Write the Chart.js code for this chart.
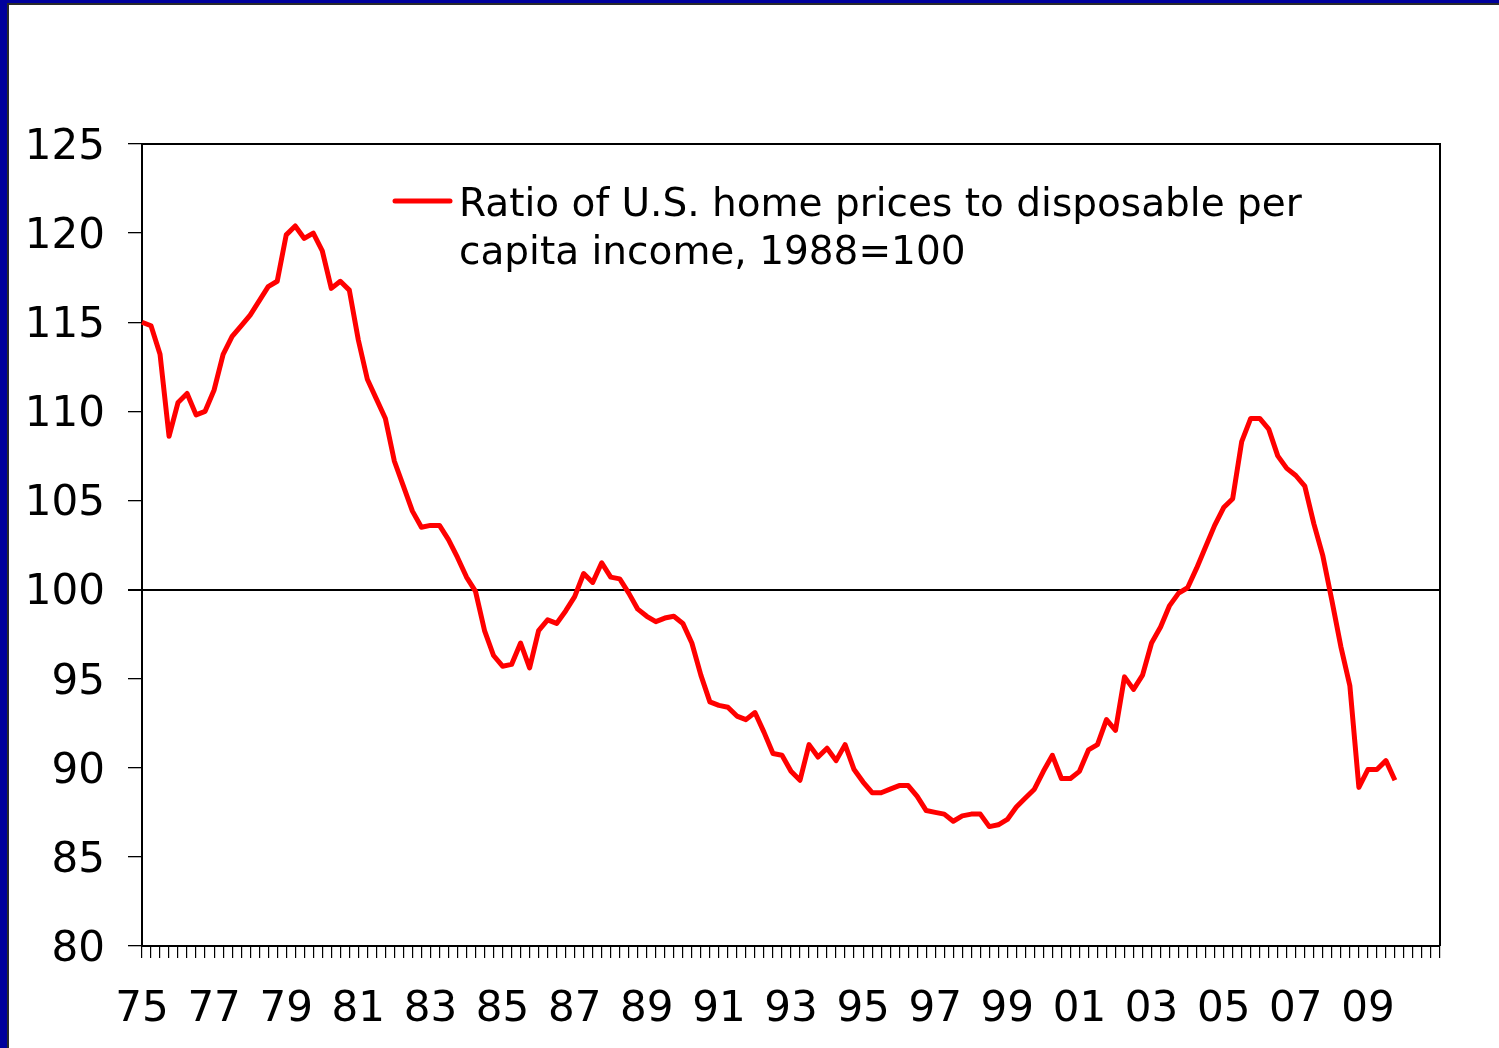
<!DOCTYPE html>
<html>
<head>
<meta charset="utf-8">
<title>Ratio of U.S. home prices to disposable per capita income</title>
<script src="https://cdn.jsdelivr.net/npm/chart.js@4.4.0/dist/chart.umd.min.js"></script>
<style>
    html, body { margin: 0; padding: 0; background: #ffffff; overflow: hidden; }
    #marco {
        position: absolute; left: 0; top: 0; width: 1499px; height: 1048px;
        box-sizing: border-box;
        border-left: 7px solid #00009c;
        border-top: 3px solid #00009c;
        pointer-events: none; z-index: 2;
    }
    #marco-interior {
        position: absolute; left: 0; top: 0; right: 0; bottom: 0;
        border-left: 2px solid #2a2a2a;
        border-top: 2px solid #2a2a2a;
    }
    #grafica { position: absolute; left: 0; top: 0; }
</style>
</head>
<body>
<div id="marco"><div id="marco-interior"></div></div>
<canvas id="grafica" width="1499" height="1048"></canvas>
<script>
// Serie trimestral 1975T1 - 2009T4 (ratio precio vivienda / ingreso disponible per capita, 1988=100)
const ratio1975_79 = [
    115.0, 114.8, 113.2, 108.6, 110.5, 111.0, 109.8, 110.0, 111.2, 113.2,
    114.2, 114.8, 115.4, 116.2, 117.0, 117.3, 119.9, 120.4, 119.7, 120.0
];
const ratio1980s = [
    119.0, 116.9, 117.3, 116.8, 114.0, 111.8, 110.7, 109.6, 107.2, 105.8,
    104.4, 103.5, 103.6, 103.6, 102.8, 101.8, 100.7, 99.9, 97.7, 96.3,
    95.7, 95.8, 97.0, 95.6, 97.7, 98.3, 98.1, 98.8, 99.6, 100.9,
    100.4, 101.5, 100.7, 100.6, 99.8, 98.9, 98.5, 98.2, 98.4, 98.5
];
const ratio1990s = [
    98.1, 97.0, 95.2, 93.7, 93.5, 93.4, 92.9, 92.7, 93.1, 92.0,
    90.8, 90.7, 89.8, 89.3, 91.3, 90.6, 91.1, 90.4, 91.3, 89.9,
    89.2, 88.6, 88.6, 88.8, 89.0, 89.0, 88.4, 87.6, 87.5, 87.4,
    87.0, 87.3, 87.4, 87.4, 86.7, 86.8, 87.1, 87.8, 88.3, 88.8
];
const ratio2000s = [
    89.8, 90.7, 89.4, 89.4, 89.8, 91.0, 91.3, 92.7, 92.1, 95.1,
    94.4, 95.2, 97.0, 97.9, 99.1, 99.8, 100.1, 101.2, 102.4, 103.6,
    104.6, 105.1, 108.3, 109.6, 109.6, 109.0, 107.5, 106.8, 106.4, 105.8,
    103.7, 101.9, 99.4, 96.8, 94.6, 88.9, 89.9, 89.9, 90.4, 89.3
];

// Etiquetas del eje X (cada 8 trimestres) y rango del eje Y
const etiquetasAnio = ['75', '77', '79', '81', '83', '85', '87', '89', '91', '93',
                       '95', '97', '99', '01', '03', '05', '07', '09'];
const valoresEjeY = [80, 85, 90, 95, 100, 105, 110, 115, 120, 125];
const lineaReferencia = 100;
const textoLeyenda = ['Ratio of U.S. home prices to disposable per', 'capita income, 1988=100'];

// Categorias trimestrales: 1975T1 hasta 2011T1 (el eje llega un poco mas alla de los datos)
const categorias = [];
for (let anio = 1975; anio <= 2011; anio++) {
    for (let q = 1; q <= 4; q++) {
        if (categorias.length < 145) categorias.push(anio + 'Q' + q);
    }
}

const serieRatio = [].concat(ratio1975_79, ratio1980s, ratio1990s, ratio2000s);

const FUENTE = 'DejaVu Sans';

// Plugin: fondo blanco, marco del area de la grafica y leyenda dentro del area
const pluginMarcoLeyenda = {
    id: 'marcoLeyenda',
    beforeDraw(chart) {
        const c = chart.ctx;
        c.save();
        c.fillStyle = '#ffffff';
        c.fillRect(0, 0, chart.width, chart.height);
        c.restore();
    },
    afterDraw(chart) {
        const c = chart.ctx;
        const a = chart.chartArea;
        c.save();
        // borde superior y derecho
        c.strokeStyle = '#000000';
        c.lineWidth = 2;
        c.beginPath();
        c.moveTo(a.left, a.top);
        c.lineTo(a.right, a.top);
        c.lineTo(a.right, a.bottom);
        c.stroke();

        // leyenda
        const lx = a.left + 253;
        const ly = a.top + 57;
        c.strokeStyle = '#ff0000';
        c.lineWidth = 5;
        c.lineCap = 'round';
        c.beginPath();
        c.moveTo(lx, ly);
        c.lineTo(lx + 55, ly);
        c.stroke();

        c.fillStyle = '#000000';
        c.font = '39px "' + FUENTE + '"';
        c.textBaseline = 'alphabetic';
        c.textAlign = 'left';
        c.fillText(textoLeyenda[0], lx + 64, ly + 15);
        c.fillText(textoLeyenda[1], lx + 64, ly + 63);
        c.restore();
    }
};

document.addEventListener('DOMContentLoaded', function() {
    const ctx = document.getElementById('grafica');

    new Chart(ctx, {
        type: 'line',
        data: {
            labels: categorias,
            datasets: [{
                label: textoLeyenda.join(' '),
                data: serieRatio,
                borderColor: '#ff0000',
                borderWidth: 5,
                borderJoinStyle: 'round',
                pointRadius: 0,
                tension: 0,
                fill: false,
                spanGaps: false
            }]
        },
        options: {
            responsive: false,
            animation: false,
            layout: {
                padding: { left: 0, right: 59, top: 144, bottom: 0 }
            },
            plugins: {
                legend: { display: false },
                tooltip: { enabled: false }
            },
            scales: {
                x: {
                    type: 'category',
                    offset: false,
                    afterFit: function(scale) { scale.height = 102; },
                    border: { display: true, color: '#000000', width: 2 },
                    grid: {
                        display: true,
                        drawOnChartArea: false,
                        drawTicks: true,
                        tickLength: 12,
                        color: '#000000',
                        lineWidth: 1.2,
                        offset: false
                    },
                    ticks: {
                        autoSkip: false,
                        maxRotation: 0,
                        minRotation: 0,
                        padding: 27,
                        color: '#000000',
                        font: { family: FUENTE, size: 42 },
                        callback: function(value, index) {
                            return index % 8 === 0 ? (etiquetasAnio[index / 8] || '') : '';
                        }
                    }
                },
                y: {
                    min: valoresEjeY[0],
                    max: valoresEjeY[valoresEjeY.length - 1],
                    afterFit: function(scale) { scale.width = 142; },
                    afterBuildTicks: function(scale) {
                        scale.ticks = valoresEjeY.map(v => ({ value: v }));
                    },
                    border: { display: true, color: '#000000', width: 2 },
                    grid: {
                        display: true,
                        drawTicks: true,
                        tickLength: 14,
                        color: function(c) {
                            return c.tick && c.tick.value === lineaReferencia ? '#000000' : 'rgba(0,0,0,0)';
                        },
                        tickColor: '#000000',
                        lineWidth: function(c) {
                            return c.tick && c.tick.value === lineaReferencia ? 2 : 1.3;
                        }
                    },
                    ticks: {
                        padding: 23,
                        labelOffset: 4,
                        color: '#000000',
                        font: { family: FUENTE, size: 42 }
                    }
                }
            }
        },
        plugins: [pluginMarcoLeyenda]
    });
});
</script>
</body>
</html>
